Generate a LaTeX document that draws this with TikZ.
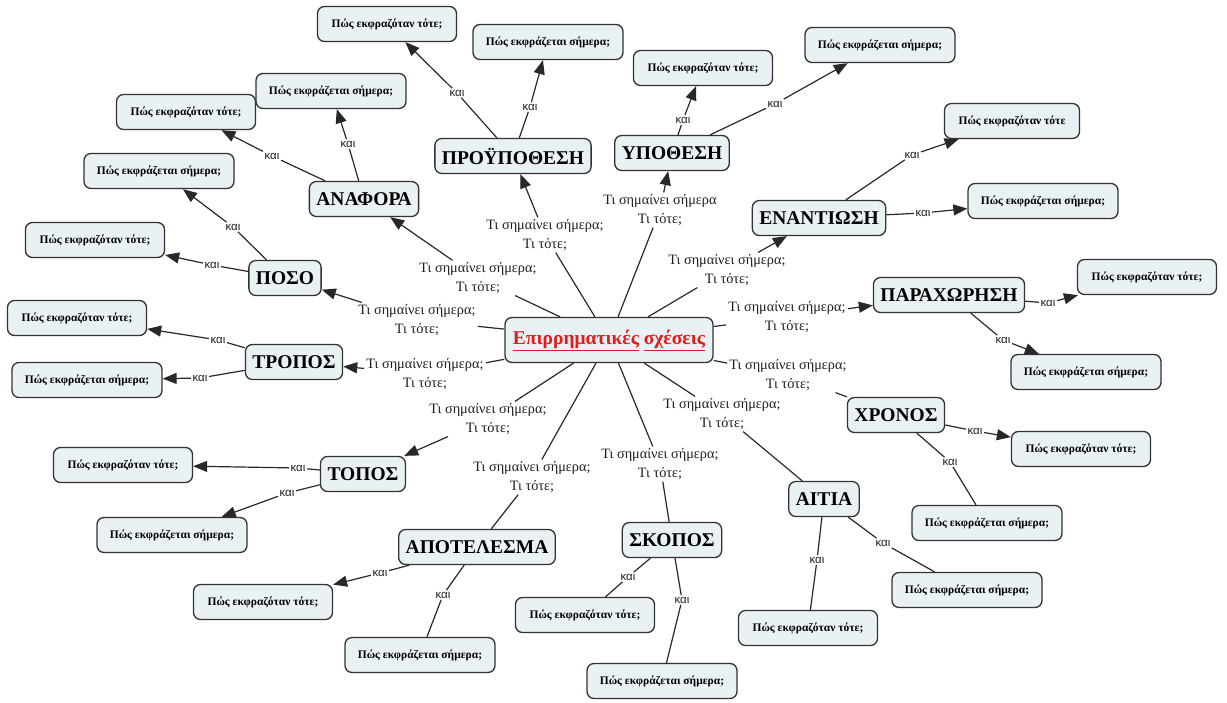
\documentclass[tikz,border=0pt]{standalone}
\usepackage{fontspec}
\setmainfont{Liberation Serif}
\newfontfamily\kaifont{Liberation Sans}
\usetikzlibrary{arrows.meta}
\definecolor{boxfill}{RGB}{233,241,245}
\definecolor{bordercol}{RGB}{50,50,50}
\definecolor{linecol}{RGB}{40,40,40}
\definecolor{textcol}{RGB}{30,30,30}
\definecolor{titlered}{RGB}{226,28,28}
\tikzset{
  box/.style={draw=bordercol, line width=1.3pt, rounded corners=7pt, fill=boxfill},
  mainbox/.style={box, font=\bfseries\fontsize{19.5}{22}\selectfont, inner xsep=7pt, minimum height=35pt},
  leafT/.style={box, font=\bfseries\fontsize{11.5}{13}\selectfont, minimum height=35pt, minimum width=139pt},
  leafS/.style={box, font=\bfseries\fontsize{11.5}{13}\selectfont, minimum height=35pt, minimum width=150pt},
  lbl/.style={font=\fontsize{14.3}{18.5}\selectfont, align=center, inner sep=2pt, text=textcol},
  kai/.style={font=\kaifont\fontsize{11.5}{12}\selectfont, inner sep=1.5pt, text=textcol},
  conn/.style={draw=linecol, line width=1.2pt},
  arr/.style={conn, -{Triangle[length=14pt,width=11pt]}}
}
\begin{document}
\begin{tikzpicture}[x=1pt,y=-1pt]
\useasboundingbox (0,0) rectangle (1227,702);
% centre
\node[box, minimum width=208pt, minimum height=45pt, font=\bfseries\fontsize{19.5}{22}\selectfont, text=titlered] (c) at (609,340) {\underline{Επιρρηματικές}\ \underline{σχέσεις}};
% main nodes
\node[mainbox] (anaf) at (364,199) {ΑΝΑΦΟΡΑ};
\node[mainbox] (prou) at (513,156) {ΠΡΟΫΠΟΘΕΣΗ};
\node[mainbox] (ypo) at (672,153) {ΥΠΟΘΕΣΗ};
\node[mainbox] (enan) at (819,218) {ΕΝΑΝΤΙΩΣΗ};
\node[mainbox] (parax) at (949,295) {ΠΑΡΑΧΩΡΗΣΗ};
\node[mainbox] (xron) at (896,415) {ΧΡΟΝΟΣ};
\node[mainbox] (aitia) at (824,499) {ΑΙΤΙΑ};
\node[mainbox] (skop) at (672,540) {ΣΚΟΠΟΣ};
\node[mainbox] (apot) at (477,547) {ΑΠΟΤΕΛΕΣΜΑ};
\node[mainbox] (topos) at (363,474) {ΤΟΠΟΣ};
\node[mainbox] (trop) at (294,362) {ΤΡΟΠΟΣ};
\node[mainbox] (poso) at (285,278) {ΠΟΣΟ};
% link labels
\node[lbl] (lA) at (478,278) {Τι σημαίνει σήμερα;\\Τι τότε;};
\node[lbl] (lPr) at (545,235) {Τι σημαίνει σήμερα;\\Τι τότε;};
\node[lbl] (lY) at (660,210) {Τι σημαίνει σήμερα\\Τι τότε;};
\node[lbl] (lE) at (727,270) {Τι σημαίνει σήμερα;\\Τι τότε;};
\node[lbl] (lPa) at (787,317) {Τι σημαίνει σήμερα;\\Τι τότε;};
\node[lbl] (lX) at (788,375) {Τι σημαίνει σήμερα;\\Τι τότε;};
\node[lbl] (lAi) at (722,414) {Τι σημαίνει σήμερα;\\Τι τότε;};
\node[lbl] (lS) at (660,464) {Τι σημαίνει σήμερα;\\Τι τότε;};
\node[lbl] (lAp) at (532,477) {Τι σημαίνει σήμερα;\\Τι τότε;};
\node[lbl] (lT) at (488,419) {Τι σημαίνει σήμερα;\\Τι τότε;};
\node[lbl] (lTr) at (425,374) {Τι σημαίνει σήμερα;\\Τι τότε;};
\node[lbl] (lPo) at (417,320) {Τι σημαίνει σήμερα;\\Τι τότε;};
% leaves
\node[leafT] (aT) at (186,112) {Πώς εκφραζόταν τότε;};
\node[leafS] (aS) at (331,91) {Πώς εκφράζεται σήμερα;};
\node[leafT] (prT) at (387,24) {Πώς εκφραζόταν τότε;};
\node[leafS] (prS) at (548,42) {Πώς εκφράζεται σήμερα;};
\node[leafT] (yT) at (703,68) {Πώς εκφραζόταν τότε;};
\node[leafS] (yS) at (880,45) {Πώς εκφράζεται σήμερα;};
\node[leafT, minimum width=135pt] (eT) at (1012,121) {Πώς εκφραζόταν τότε};
\node[leafS] (eS) at (1043,201) {Πώς εκφράζεται σήμερα;};
\node[leafT] (paT) at (1147,277) {Πώς εκφραζόταν τότε;};
\node[leafS] (paS) at (1086,372) {Πώς εκφράζεται σήμερα;};
\node[leafT] (xT) at (1081,449) {Πώς εκφραζόταν τότε;};
\node[leafS] (xS) at (987,523) {Πώς εκφράζεται σήμερα;};
\node[leafS] (aiS) at (967,590) {Πώς εκφράζεται σήμερα;};
\node[leafT] (aiT) at (808,628) {Πώς εκφραζόταν τότε;};
\node[leafT] (skT) at (585,615) {Πώς εκφραζόταν τότε;};
\node[leafS] (skS) at (662,681) {Πώς εκφράζεται σήμερα;};
\node[leafT] (apT) at (263,602) {Πώς εκφραζόταν τότε;};
\node[leafS] (apS) at (420,655) {Πώς εκφράζεται σήμερα;};
\node[leafT] (tT) at (123,465) {Πώς εκφραζόταν τότε;};
\node[leafS] (tS) at (172,535) {Πώς εκφράζεται σήμερα;};
\node[leafT] (trT) at (77,318) {Πώς εκφραζόταν τότε;};
\node[leafS] (trS) at (87,380) {Πώς εκφράζεται σήμερα;};
\node[leafT] (poT) at (95,240) {Πώς εκφραζόταν τότε;};
\node[leafS] (poS) at (159,171) {Πώς εκφράζεται σήμερα;};
% kai labels
\node[kai] (kaT) at (272,156) {και};
\node[kai] (kaS) at (348,144) {και};
\node[kai] (kprT) at (457,93) {και};
\node[kai] (kprS) at (530,107) {και};
\node[kai] (kyT) at (683,120) {και};
\node[kai] (kyS) at (775,104) {και};
\node[kai] (keT) at (912,155) {και};
\node[kai] (keS) at (923,213) {και};
\node[kai] (kpaT) at (1048,303) {και};
\node[kai] (kpaS) at (1003,340) {και};
\node[kai] (kxT) at (975,431) {και};
\node[kai] (kxS) at (950,462) {και};
\node[kai] (kaiT) at (817,560) {και};
\node[kai] (kaiS) at (883,543) {και};
\node[kai] (kskT) at (628,577) {και};
\node[kai] (kskS) at (682,600) {και};
\node[kai] (kapT) at (380,573) {και};
\node[kai] (kapS) at (443,595) {και};
\node[kai] (ktT) at (298,468) {και};
\node[kai] (ktS) at (287,493) {και};
\node[kai] (ktrT) at (218,340) {και};
\node[kai] (ktrS) at (200,378) {και};
\node[kai] (kpoT) at (212,265) {και};
\node[kai] (kpoS) at (233,227) {και};
% centre connectors
\draw[conn] (c) -- (lA);  \draw[arr] (lA) -- (anaf);
\draw[conn] (c) -- (lPr); \draw[arr] (lPr) -- (prou);
\draw[conn] (c) -- (lY);  \draw[arr] (lY) -- (ypo);
\draw[conn] (c) -- (lE);  \draw[arr] (lE) -- (enan);
\draw[conn] (c) -- (lPa); \draw[arr] (lPa) -- (parax);
\draw[conn] (c) -- (lX);  \draw[conn] (lX) -- (xron);
\draw[conn] (c) -- (lAi); \draw[conn] (lAi) -- (aitia);
\draw[conn] (c) -- (lS);  \draw[conn] (lS) -- (skop);
\draw[conn] (c) -- (lAp); \draw[conn] (lAp) -- (apot);
\draw[conn] (c) -- (lT);  \draw[arr] (lT) -- (topos);
\draw[conn] (c) -- (lTr); \draw[arr] (lTr) -- (trop);
\draw[conn] (c) -- (lPo); \draw[arr] (lPo) -- (poso);
% leaf connectors
\draw[conn] (anaf) -- (kaT); \draw[arr] (kaT) -- (aT);
\draw[conn] (anaf) -- (kaS); \draw[arr] (kaS) -- (aS);
\draw[conn] (prou) -- (kprT); \draw[arr] (kprT) -- (prT);
\draw[conn] (prou) -- (kprS); \draw[arr] (kprS) -- (prS);
\draw[conn] (ypo) -- (kyT); \draw[arr] (kyT) -- (yT);
\draw[conn] (ypo) -- (kyS); \draw[arr] (kyS) -- (yS);
\draw[conn] (enan) -- (keT); \draw[arr] (keT) -- (eT);
\draw[conn] (enan) -- (keS); \draw[arr] (keS) -- (eS);
\draw[conn] (parax) -- (kpaT); \draw[arr] (kpaT) -- (paT);
\draw[conn] (parax) -- (kpaS); \draw[arr] (kpaS) -- (paS);
\draw[conn] (xron) -- (kxT); \draw[arr] (kxT) -- (xT);
\draw[conn] (xron) -- (kxS); \draw[conn] (kxS) -- (xS);
\draw[conn] (aitia) -- (kaiT); \draw[conn] (kaiT) -- (aiT);
\draw[conn] (aitia) -- (kaiS); \draw[conn] (kaiS) -- (aiS);
\draw[conn] (skop) -- (kskT); \draw[conn] (kskT) -- (skT);
\draw[conn] (skop) -- (kskS); \draw[conn] (kskS) -- (skS);
\draw[conn] (apot) -- (kapT); \draw[arr] (kapT) -- (apT);
\draw[conn] (apot) -- (kapS); \draw[conn] (kapS) -- (apS);
\draw[conn] (topos) -- (ktT); \draw[arr] (ktT) -- (tT);
\draw[conn] (topos) -- (ktS); \draw[arr] (ktS) -- (tS);
\draw[conn] (trop) -- (ktrT); \draw[arr] (ktrT) -- (trT);
\draw[conn] (trop) -- (ktrS); \draw[arr] (ktrS) -- (trS);
\draw[conn] (poso) -- (kpoT); \draw[arr] (kpoT) -- (poT);
\draw[conn] (poso) -- (kpoS); \draw[arr] (kpoS) -- (poS);
\end{tikzpicture}
\end{document}
